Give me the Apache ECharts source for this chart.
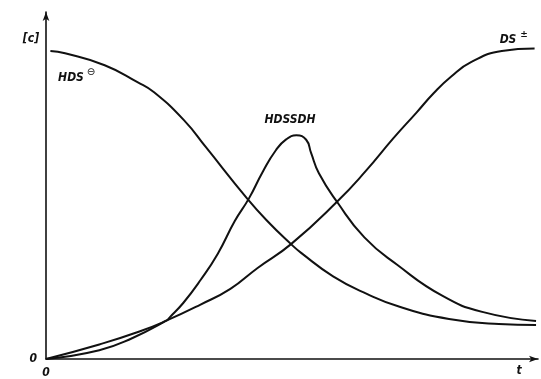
<!DOCTYPE html>
<html>
<head>
<meta charset="utf-8">
<script src="https://cdn.jsdelivr.net/npm/echarts@6/dist/echarts.min.js"></script>
<style>
  html, body { margin: 0; padding: 0; background: #fff; }
  #chart { width: 541px; height: 379px; }
</style>
</head>
<body>
<div id="chart"></div>
<script>
// concentration [c] against time t (arbitrary units)
const hdsT = [0.09, 0.39, 1.20, 1.87, 2.21, 2.82, 3.27, 4.11, 4.54, 5.01, 5.21, 5.87, 6.56, 7.23, 8.24, 9.26, 10.02];
const hdsC = [9.09, 9.02, 8.67, 8.17, 7.87, 7.05, 6.25, 4.74, 4.05, 3.39, 3.14, 2.44, 1.92, 1.54, 1.18, 1.03, 1.00];

const dimerT = [0, 1.09, 1.77, 2.46, 2.53, 2.81, 3.16, 3.51, 3.86, 4.15, 4.43, 4.70, 4.91, 5.12, 5.32, 5.42, 5.58, 5.95, 6.51, 7.18, 8.11, 8.92, 10.02];
const dimerC = [0, 0.26, 0.62, 1.13, 1.23, 1.66, 2.33, 3.10, 4.07, 4.74, 5.52, 6.16, 6.48, 6.60, 6.47, 6.08, 5.48, 4.64, 3.59, 2.78, 1.86, 1.39, 1.12];

const dsT = [0, 1.09, 1.91, 2.46, 3.15, 3.77, 4.32, 5.01, 5.95, 6.54, 7.10, 7.58, 7.93, 8.28, 8.69, 9.32, 9.99];
const dsC = [0, 0.43, 0.81, 1.13, 1.60, 2.07, 2.68, 3.39, 4.64, 5.55, 6.51, 7.28, 7.85, 8.33, 8.76, 9.09, 9.16];

const zip = (a, b) => a.map((v, i) => [v, b[i]]);

const ink = '#111';
const fontFamily = '"Liberation Sans Narrow", "DejaVu Sans Condensed", sans-serif';
const labelFont = 'italic bold 12px ' + fontFamily;

const chart = echarts.init(document.getElementById('chart'));

function curve(name, data) {
  return {
    name: name,
    type: 'line',
    data: data,
    smooth: 0.5,
    symbol: 'none',
    lineStyle: { color: ink, width: 2 },
    silent: true
  };
}

function axisStyle(max, margin) {
  return {
    type: 'value',
    min: 0,
    max: max,
    interval: 5,
    axisLine: { show: true, lineStyle: { color: ink, width: 1.6 }, symbol: ['none', 'arrow'], symbolSize: [5, 9] },
    axisTick: { show: false },
    splitLine: { show: false },
    axisLabel: {
      margin: margin,
      color: ink,
      fontStyle: 'italic',
      fontWeight: 'bold',
      fontSize: 12,
      fontFamily: fontFamily,
      formatter: v => (v === 0 ? '0' : '')
    }
  };
}

const option = {
  animation: false,
  backgroundColor: '#fff',
  grid: { left: 46, right: 2, top: 12, bottom: 19 },
  xAxis: axisStyle(10.06, 8),
  yAxis: axisStyle(10.24, 9),
  series: [
    curve('HDS⊖', zip(hdsT, hdsC)),
    curve('HDSSDH', zip(dimerT, dimerC)),
    curve('DS±', zip(dsT, dsC))
  ],
  graphic: [
    { type: 'text', x: 31, y: 39, style: { text: '[c]', font: labelFont, fill: ink, align: 'center', verticalAlign: 'middle' } },
    { type: 'text', x: 71, y: 78, style: { text: 'HDS', font: labelFont, fill: ink, align: 'center', verticalAlign: 'middle' } },
    { type: 'text', x: 91, y: 72, style: { text: '⊖', font: '10px "DejaVu Sans", sans-serif', fill: ink, align: 'center', verticalAlign: 'middle' } },
    { type: 'text', x: 290, y: 120, style: { text: 'HDSSDH', font: labelFont, fill: ink, align: 'center', verticalAlign: 'middle' } },
    { type: 'text', x: 508, y: 40, style: { text: 'DS', font: labelFont, fill: ink, align: 'center', verticalAlign: 'middle' } },
    { type: 'text', x: 524, y: 35, style: { text: '±', font: 'bold 9px "DejaVu Sans", sans-serif', fill: ink, align: 'center', verticalAlign: 'middle' } },
    { type: 'text', x: 519, y: 371, style: { text: 't', font: labelFont, fill: ink, align: 'center', verticalAlign: 'middle' } }
  ]
};

chart.setOption(option);
</script>
</body>
</html>
